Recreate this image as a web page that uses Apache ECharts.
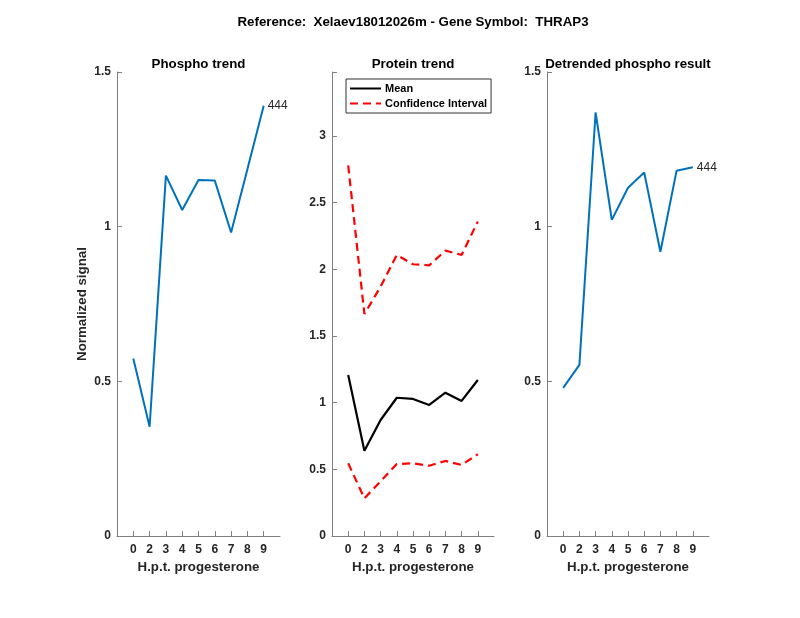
<!DOCTYPE html>
<html>
<head>
<meta charset="utf-8">
<script src="https://cdn.jsdelivr.net/npm/echarts@6/dist/echarts.min.js"></script>
<style>html,body{margin:0;padding:0;background:#fff}#c{width:800px;height:618px}</style>
</head>
<body>
<div id="c"></div>
<script>
// ---- data ----
var hours = ['0', '2', '3', '4', '5', '6', '7', '8', '9'];
var phosphoTrend = [0.574, 0.353, 1.165, 1.054, 1.151, 1.149, 0.981, 1.186, 1.391];
var proteinMean = [1.208, 0.640, 0.870, 1.037, 1.028, 0.983, 1.075, 1.013, 1.170];
var proteinUpper = [2.780, 1.665, 1.870, 2.108, 2.038, 2.030, 2.140, 2.108, 2.358];
var proteinLower = [0.545, 0.283, 0.410, 0.540, 0.545, 0.527, 0.563, 0.533, 0.613];
var detrended = [0.479, 0.553, 1.369, 1.022, 1.126, 1.175, 0.919, 1.181, 1.192];
var peptideLabel = '444';
var mainTitle = 'Reference:  Xelaev18012026m - Gene Symbol:  THRAP3';
var panelTitles = ['Phospho trend', 'Protein trend', 'Detrended phospho result'];
var yTicks1 = [0, 0.5, 1, 1.5];
var yTicks2 = [0, 0.5, 1, 1.5, 2, 2.5, 3];

// padded category axis: one empty slot on each side
var xCats = [''].concat(hours, ['']);
function pad(arr) { return [null].concat(arr, [null]); }

var FONT = 'Liberation Sans, Arial, Helvetica, sans-serif';
var AX = '#808080';
var TXT = '#262626';

var grids = [
  {left: 117, top: 72, width: 163, height: 464},
  {left: 332, top: 72, width: 162, height: 464},
  {left: 547, top: 72, width: 162, height: 464}
];

function xAxis(i) {
  return {
    gridIndex: i, type: 'category', data: xCats, boundaryGap: false,
    name: 'H.p.t. progesterone', nameLocation: 'middle', nameGap: 23,
    nameTextStyle: {fontFamily: FONT, fontSize: 13.3, fontWeight: 'bold', color: TXT},
    axisLine: {lineStyle: {color: AX, width: 1}},
    axisTick: {inside: true, length: 5, lineStyle: {color: AX}, interval: function (idx) { return idx > 0 && idx < xCats.length - 1; }},
    axisLabel: {interval: 0, margin: 8, fontFamily: FONT, fontSize: 12, fontWeight: 'bold', color: TXT},
    splitLine: {show: false}
  };
}
function yAxis(i, max, ticks, name) {
  return {
    gridIndex: i, type: 'value', min: 0, max: max, interval: 0.5,
    name: name || '', nameLocation: 'middle', nameGap: 28,
    nameTextStyle: {fontFamily: FONT, fontSize: 13.3, fontWeight: 'bold', color: TXT},
    axisLine: {show: true, lineStyle: {color: AX, width: 1}},
    axisTick: {show: true, inside: true, length: 5, lineStyle: {color: AX}},
    axisLabel: {margin: 6, fontFamily: FONT, fontSize: 12, fontWeight: 'bold', color: TXT,
      formatter: function (v) { return ticks.indexOf(Math.round(v * 1000) / 1000) >= 0 ? String(v) : ''; }},
    splitLine: {show: false}
  };
}

var titles = [{text: mainTitle, left: 408, top: 11, textAlign: 'center',
  textStyle: {fontFamily: FONT, fontSize: 13.3, fontWeight: 'bold', color: '#000'}}];
grids.forEach(function (g, i) {
  titles.push({text: panelTitles[i], left: g.left + g.width / 2 - 5, top: 53, textAlign: 'center',
    textStyle: {fontFamily: FONT, fontSize: 13.3, fontWeight: 'bold', color: '#000'}});
});

var endLbl = {show: true, formatter: peptideLabel, distance: 4, fontFamily: FONT, fontSize: 12, color: TXT};

var option = {
  animation: false,
  backgroundColor: '#fff',
  title: titles,
  grid: grids,
  xAxis: [xAxis(0), xAxis(1), xAxis(2)],
  yAxis: [yAxis(0, 1.5, yTicks1, 'Normalized signal'), yAxis(1, 3.48, yTicks2), yAxis(2, 1.5, yTicks1)],
  legend: {
    left: 346, top: 79, orient: 'vertical', itemGap: 4, itemWidth: 31, itemHeight: 12,
    padding: [4, 4, 4, 3], borderColor: '#333', borderWidth: 1, backgroundColor: '#fff', borderRadius: 0,
    itemStyle: {opacity: 0},
    textStyle: {fontFamily: FONT, fontSize: 11, fontWeight: 'bold', color: '#000', padding: [0, 0, 0, -1]},
    data: ['Mean', 'Confidence Interval']
  },
  series: [
    {type: 'line', xAxisIndex: 0, yAxisIndex: 0, data: pad(phosphoTrend), symbol: 'none',
      lineStyle: {color: '#0072BD', width: 2}, itemStyle: {color: '#0072BD'}, endLabel: endLbl},
    {name: 'Mean', type: 'line', xAxisIndex: 1, yAxisIndex: 1, data: pad(proteinMean), symbol: 'none',
      lineStyle: {color: '#000', width: 2.2}, itemStyle: {color: '#000'}},
    {name: 'Confidence Interval', type: 'line', xAxisIndex: 1, yAxisIndex: 1, data: pad(proteinUpper), symbol: 'none',
      lineStyle: {color: '#ff0000', width: 2.2, type: [8, 5]}, itemStyle: {color: '#ff0000'}},
    {name: 'Confidence Interval', type: 'line', xAxisIndex: 1, yAxisIndex: 1, data: pad(proteinLower), symbol: 'none',
      lineStyle: {color: '#ff0000', width: 2.2, type: [8, 5]}, itemStyle: {color: '#ff0000'}},
    {type: 'line', xAxisIndex: 2, yAxisIndex: 2, data: pad(detrended), symbol: 'none',
      lineStyle: {color: '#0072BD', width: 2}, itemStyle: {color: '#0072BD'}, endLabel: endLbl}
  ]
};
var chart = echarts.init(document.getElementById('c'));
chart.setOption(option);
</script>
</body>
</html>
